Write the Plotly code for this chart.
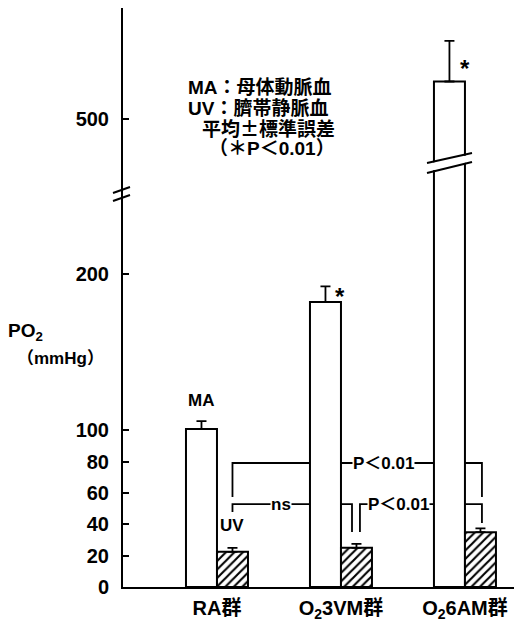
import plotly.graph_objects as go

# ---------------- data ----------------
groups = ["RA群", "O<sub>2</sub>3VM群", "O<sub>2</sub>6AM群"]
group_pos = [0, 1, 2]
ma_mean = [101, 182, 524]
ma_sem = [5, 10, 26]
uv_mean = [22.5, 25, 35]
uv_sem = [2.5, 2.5, 2.5]
lower_ticks = [0, 20, 40, 60, 80, 100, 200]
upper_ticks = [500]

# ---------------- geometry helpers ----------------
# the page body has an 8px margin, so the figure sits at (8, 8)
OFF = 8
FW, FH = 522 - OFF, 622 - OFF
ML, MR, MT, MB = 123 - OFF, 2, 0, 35
PW, PH = FW - ML - MR, FH - MT - MB
BREAK_PX = 180  # reference pixel row where the axis is split


def px_x(px):
    return (px - OFF - ML) / PW


def px_y(py):
    return (FH - MB - (py - OFF)) / PH


split = px_y(BREAK_PX)
FONT = "Liberation Sans, Arial, Noto Sans CJK JP"
BLACK = "black"

fig = go.Figure()

err_ma = dict(type="data", symmetric=False, array=ma_sem, arrayminus=[0] * 3,
              color=BLACK, thickness=1.8, width=5)
err_uv = dict(type="data", symmetric=False, array=uv_sem, arrayminus=[0] * 3,
              color=BLACK, thickness=1.8, width=5)

for ya in ["y", "y2"]:
    fig.add_trace(go.Bar(
        x=group_pos, y=ma_mean, width=0.25, offset=-0.25, yaxis=ya,
        marker=dict(color="white", line=dict(color=BLACK, width=2)),
        error_y=err_ma, showlegend=False, hoverinfo="skip"))
fig.add_trace(go.Bar(
    x=group_pos, y=uv_mean, width=0.25, offset=0, yaxis="y",
    marker=dict(color="white", line=dict(color=BLACK, width=2),
                pattern=dict(shape="/", fgcolor=BLACK, bgcolor="white",
                             fgopacity=1, size=6, solidity=0.35)),
    error_y=err_uv, showlegend=False, hoverinfo="skip"))

# ---------------- significance brackets (data coords) ----------------
line = dict(color=BLACK, width=1.8)
shapes = [
    dict(type="path", xref="x", yref="y", layer="below", line=line,
         path="M 0.125,57.5 L 0.125,79.2 L 2.137,79.2 L 2.137,57.5"),
    dict(type="path", xref="x", yref="y", layer="below", line=line,
         path="M 0.125,47.9 L 0.125,53 L 1.089,53 L 1.089,35.1"),
    dict(type="path", xref="x", yref="y", layer="below", line=line,
         path="M 1.153,35.1 L 1.153,53 L 2.137,53 L 2.137,40.9"),
]

# ---------------- break marks (paper coords) ----------------
for (x0, y0, x1, y1) in [(113, 193, 130, 187), (113, 201, 130, 195)]:
    shapes.append(dict(type="line", xref="paper", yref="paper",
                       x0=px_x(x0), y0=px_y(y0), x1=px_x(x1), y1=px_y(y1),
                       line=dict(color=BLACK, width=2)))
shapes.append(dict(type="path", xref="paper", yref="paper", layer="above",
                   fillcolor="white", line=dict(width=0),
                   path=(f"M {px_x(426)},{px_y(164)} L {px_x(473)},{px_y(154)} "
                         f"L {px_x(473)},{px_y(161)} L {px_x(426)},{px_y(172)} Z")))
for (x0, y0, x1, y1) in [(427, 163, 472, 153), (427, 173, 472, 162)]:
    shapes.append(dict(type="line", xref="paper", yref="paper",
                       x0=px_x(x0), y0=px_y(y0), x1=px_x(x1), y1=px_y(y1),
                       line=dict(color=BLACK, width=2)))

# ---------------- annotations ----------------
ann = []


def text(t, x, y, size=17, xanchor="center", bg=None, yanchor="middle", family=FONT):
    d = dict(text=t, x=px_x(x), y=px_y(y), xref="paper", yref="paper",
             showarrow=False, xanchor=xanchor, yanchor=yanchor,
             font=dict(family=family, size=size, color=BLACK, weight="bold"))
    if bg:
        d["bgcolor"] = bg
        d["borderpad"] = 0
    ann.append(d)


text("MA：母体動脈血", 186, 88, 19, "left")
text("UV：臍帯静脈血", 186, 108, 19, "left")
text("平均±標準誤差", 268, 128, 19, family="Noto Sans CJK JP")
text("（＊P＜0.01）", 272, 148, 19)
text("PO<sub>2</sub>", 6, 332, 19, "left")
text("（mmHg）", 15, 358, 17, "left")
text("MA", 201, 400, 17)
text("UV", 232, 525, 17)
text("P＜0.01", 383, 463, 17, bg="white")
text("ns", 281, 504, 17, bg="white")
text("P＜0.01", 398, 504, 17, bg="white")
text("*", 340, 296, 24)
text("*", 465, 68, 24)

tickfont = dict(size=20, family=FONT, color=BLACK, weight="bold")
fig.update_layout(
    width=FW, height=FH,
    margin=dict(l=ML, r=MR, t=MT, b=MB, pad=0, autoexpand=False),
    paper_bgcolor="white", plot_bgcolor="white",
    barmode="overlay", showlegend=False,
    shapes=shapes, annotations=ann,
    font=dict(family=FONT, color=BLACK),
    xaxis=dict(range=[-0.758, 2.444], tickvals=group_pos, ticktext=groups,
               showline=True, linecolor=BLACK, linewidth=2, ticks="",
               showgrid=False, zeroline=False, ticklabelstandoff=2,
               tickfont=tickfont, anchor="y", automargin=False),
    yaxis=dict(domain=[0, split], range=[0, 260], tickvals=lower_ticks,
               showline=True, linecolor=BLACK, linewidth=2,
               ticks="inside", ticklen=6, tickwidth=1.8, tickcolor=BLACK,
               showgrid=False, zeroline=False, ticklabelstandoff=8,
               tickfont=tickfont, automargin=False),
    yaxis2=dict(domain=[split, 1], range=[461, 571], tickvals=upper_ticks,
                showline=True, linecolor=BLACK, linewidth=2, anchor="x",
                ticks="inside", ticklen=6, tickwidth=1.8, tickcolor=BLACK,
                showgrid=False, zeroline=False, ticklabelstandoff=8,
                tickfont=tickfont, automargin=False),
)

fig.write_html("out.html")
